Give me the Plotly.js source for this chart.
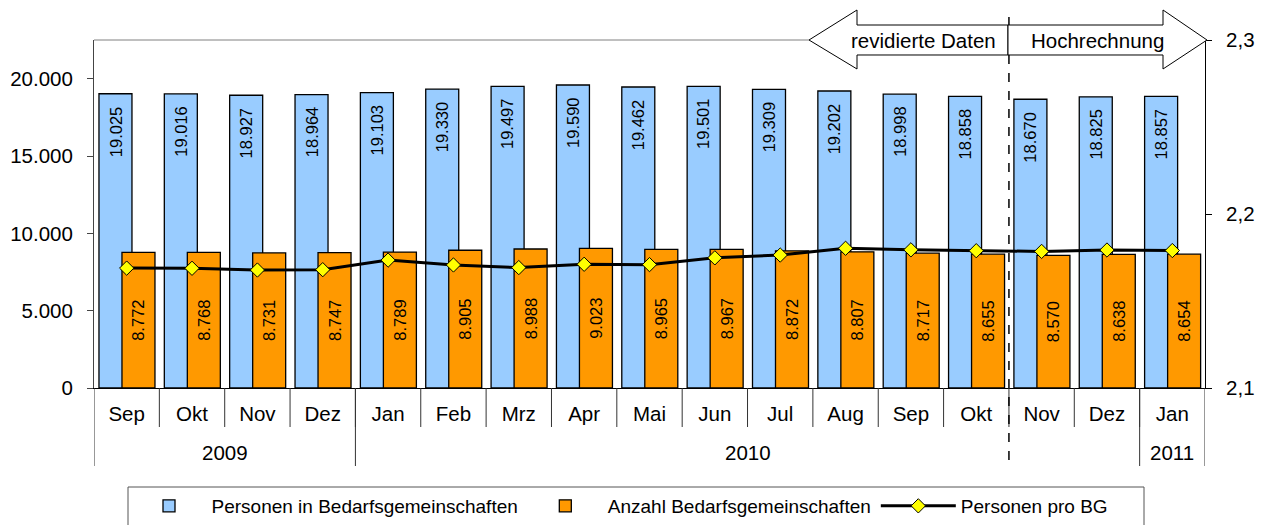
<!DOCTYPE html>
<html>
<head>
<meta charset="utf-8">
<script src="https://cdn.plot.ly/plotly-3.0.1.min.js"></script>
<style>html,body{margin:0;padding:0;background:#fff;}#chart{width:1268px;height:525px;}</style>
</head>
<body>
<div id="chart"></div>
<script>
const months = ['Sep','Okt','Nov','Dez','Jan','Feb','Mrz','Apr','Mai','Jun','Jul','Aug','Sep','Okt','Nov','Dez','Jan'];
const years = ['2009','2010','2011'];
const yearFirst = [0, 4, 16];
const yearLast = [3, 15, 16];
const personen = [19025,19016,18927,18964,19103,19330,19497,19590,19462,19501,19309,19202,18998,18858,18670,18825,18857];
const anzahl = [8772,8768,8731,8747,8789,8905,8988,9023,8965,8967,8872,8807,8717,8655,8570,8638,8654];
const proBG = [2.1689,2.1688,2.1678,2.1680,2.1735,2.1707,2.1692,2.1711,2.1709,2.1748,2.1764,2.1803,2.1794,2.1789,2.1785,2.1793,2.1790];
const seriesNames = ['Personen in Bedarfsgemeinschaften','Anzahl Bedarfsgemeinschaften','Personen pro BG'];
const arrowLabels = ['revidierte Daten','Hochrechnung'];
const splitIndex = 13.5;

const FONT = 'Liberation Sans, Arial, sans-serif';
const AX = 20.5;
const L = 94, R = 1205, T = 40, B = 388;
const px = p => (p - L) / (R - L);
const py = p => (B - p) / (B - T);
const xs = months.map((m, i) => i);
const fmt = n => String(n).replace(/\B(?=(\d{3})+(?!\d))/g, '.');

const BLUE_OFF = -0.424, ORANGE_OFF = -0.072, BW = 0.505;

const traces = [
  {type:'bar', name:seriesNames[0], x:xs, y:personen, yaxis:'y',
   offset:BLUE_OFF, width:BW,
   marker:{color:'#99CCFF', line:{color:'#000', width:1.3}}},
  {type:'bar', name:seriesNames[1], x:xs, y:anzahl, yaxis:'y',
   offset:ORANGE_OFF, width:BW,
   marker:{color:'#FF9900', line:{color:'#000', width:1.3}},
   texttemplate:'%{y:,d}', textposition:'inside', insidetextanchor:'middle', textangle:-90,
   constraintext:'none', textfont:{family:FONT, size:16.5, color:'#000'}},
  {type:'scatter', mode:'lines+markers', name:seriesNames[2], x:xs, y:proBG, yaxis:'y2',
   line:{color:'#000', width:3},
   marker:{symbol:'diamond', size:11, color:'#FFFF00', line:{color:'#000', width:1}}}
];

const shapes = [];
shapes.push({type:'line', xref:'paper', yref:'paper', x0:0, x1:px(809), y0:1, y1:1, line:{color:'#808080', width:1}});
for (let i = 1; i < months.length; i++) {
  shapes.push({type:'line', xref:'x', yref:'paper', x0:i-0.5, x1:i-0.5, y0:0, y1:py(427), line:{color:'#333', width:1}});
}
const bounds = [yearFirst[0]-0.5].concat(yearLast.map(v => v + 0.5));
bounds.forEach(b => shapes.push({type:'line', xref:'x', yref:'paper', x0:b, x1:b, y0:0, y1:py(466), line:{color:'#333', width:1}}));
shapes.push({type:'line', xref:'x', yref:'paper', x0:splitIndex, x1:splitIndex, y0:py(55), y1:py(467), line:{color:'#000', width:1.5, dash:'dash'}});
shapes.push({type:'line', xref:'x', yref:'paper', x0:splitIndex, x1:splitIndex, y0:py(17), y1:py(55), line:{color:'#000', width:1.5}});
const pt = (a, b) => px(a).toFixed(5) + ',' + py(b).toFixed(5);
const leftArrow = 'M' + pt(809,40) + 'L' + pt(857,10) + 'L' + pt(857,25) + 'L' + pt(1008,25) + 'L' + pt(1008,55) + 'L' + pt(857,55) + 'L' + pt(857,69) + 'Z';
const rightArrow = 'M' + pt(1008,25) + 'L' + pt(1163,25) + 'L' + pt(1163,10) + 'L' + pt(1207,40) + 'L' + pt(1163,69) + 'L' + pt(1163,55) + 'L' + pt(1008,55) + 'Z';
shapes.push({type:'path', xref:'paper', yref:'paper', path:leftArrow, fillcolor:'#fff', line:{color:'#000', width:1}});
shapes.push({type:'path', xref:'paper', yref:'paper', path:rightArrow, fillcolor:'#fff', line:{color:'#000', width:1}});
shapes.push({type:'rect', xref:'paper', yref:'paper', x0:px(128), x1:px(1144), y0:py(487), y1:py(540), line:{color:'#555', width:1}, fillcolor:'rgba(0,0,0,0)'});

const annotations = [];
personen.forEach((v, i) => {
  annotations.push({xref:'x', yref:'y', x:i + BLUE_OFF + BW / 2, y:v, text:fmt(v), textangle:-90, showarrow:false,
    xanchor:'center', yanchor:'top', yshift:-11, font:{family:FONT, size:16.5, color:'#000'}});
});
years.forEach((y, k) => {
  annotations.push({xref:'x', yref:'paper', x:(yearFirst[k] + yearLast[k]) / 2, y:py(453), text:y, showarrow:false,
    xanchor:'center', yanchor:'middle', font:{family:FONT, size:AX, color:'#000'}});
});
annotations.push({xref:'paper', yref:'paper', x:px(923), y:py(40), text:arrowLabels[0], showarrow:false, xanchor:'center', yanchor:'middle', font:{family:FONT, size:AX, color:'#000'}});
annotations.push({xref:'paper', yref:'paper', x:px(1097), y:py(40), text:arrowLabels[1], showarrow:false, xanchor:'center', yanchor:'middle', font:{family:FONT, size:AX, color:'#000'}});

const layout = {
  width:1268, height:525,
  margin:{l:L, r:1268-R, t:T, b:525-B, pad:0, autoexpand:false},
  paper_bgcolor:'#fff', plot_bgcolor:'#fff',
  separators:',.',
  font:{family:FONT, size:AX, color:'#000'},
  barmode:'overlay',
  showlegend:true,
  xaxis:{range:[-0.5, months.length-0.5], tickvals:xs, ticktext:months, ticks:'', showgrid:false, zeroline:false,
    showline:true, linecolor:'#000', linewidth:1, ticklabelstandoff:7, tickfont:{family:FONT, size:AX, color:'#000'}},
  yaxis:{range:[0,22500], tickvals:[0,5000,10000,15000,20000], tickformat:',d', showgrid:false, zeroline:false,
    showline:true, linecolor:'#444', linewidth:1, ticks:'outside', ticklen:6, tickcolor:'#444', ticklabelstandoff:10,
    tickfont:{family:FONT, size:AX, color:'#000'}},
  yaxis2:{overlaying:'y', side:'right', range:[2.1,2.3], tickvals:[2.1,2.2,2.3], tickformat:'.1f', showgrid:false, zeroline:false,
    showline:true, linecolor:'#000', linewidth:1, ticks:'outside', ticklen:6, tickcolor:'#000', ticklabelstandoff:10,
    tickfont:{family:FONT, size:AX, color:'#000'}},
  legend:{orientation:'h', x:px(620), xanchor:'center', yref:'container', y:(525-487)/525, yanchor:'top', borderwidth:0,
    bgcolor:'rgba(0,0,0,0)', itemwidth:75, font:{family:FONT, size:19, color:'#000'}, traceorder:'normal'},
  shapes:shapes,
  annotations:annotations
};

Plotly.newPlot('chart', traces, layout, {staticPlot:true, displayModeBar:false});
</script>
</body>
</html>
